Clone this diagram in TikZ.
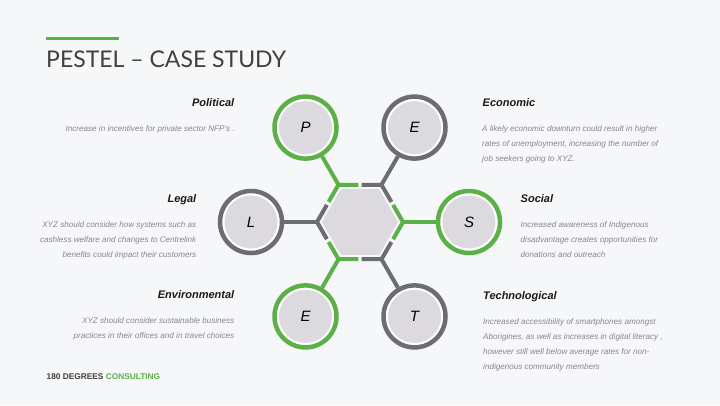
\documentclass[tikz,border=0pt]{standalone}
\usepackage{fontspec}
\setmainfont{Liberation Sans}
\newfontfamily\titlefont{Lato}
\usetikzlibrary{positioning,calc,shapes.geometric}

\definecolor{pestgreen}{RGB}{92,176,72}
\definecolor{pestgray}{RGB}{108,109,112}
\definecolor{discfill}{RGB}{220,218,223}
\definecolor{pagebg}{RGB}{246,247,249}
\definecolor{headtext}{RGB}{26,26,26}
\definecolor{bodytext}{RGB}{135,135,140}
\definecolor{titletext}{RGB}{64,64,64}

\begin{document}
\begin{tikzpicture}[x=1pt,y=-1pt]
  \tikzstyle{ring} = [circle, minimum size=62pt, line width=4.5pt, fill=white, inner sep=0pt]
  \tikzstyle{disc} = [circle, minimum size=53pt, fill=discfill, inner sep=0pt, font=\fontsize{15}{15}\selectfont\itshape]
  \tikzstyle{bracket} = [line width=4pt]
  \tikzstyle{head} = [inner sep=0pt, font=\fontsize{11}{11}\selectfont\bfseries\itshape, text=headtext]
  \tikzstyle{desc} = [inner sep=0pt, font=\fontsize{8.1}{15}\selectfont\itshape, text=bodytext]

  \fill[pagebg] (0,0) rectangle (720,405);
  \useasboundingbox (0,0) rectangle (720,405);

  % Title
  \draw[pestgreen, line width=3pt] (46,38) -- (119,38);
  \node[inner sep=0pt, anchor=base west, font=\fontsize{23}{23}\selectfont\titlefont, text=titletext] (title) at (46,67) {PESTEL – CASE STUDY};

  % Define nodes
  \node[regular polygon, regular polygon sides=6, minimum size=76pt, inner sep=0pt, fill=discfill] (hex) at (360,222) {};
  \foreach \i/\col/\ltr in {0/pestgreen/S, 1/pestgray/T, 2/pestgreen/E, 3/pestgray/L, 4/pestgreen/P, 5/pestgray/E} {
    \coordinate (v\i) at ($(hex.center)+({60*\i}:43)$);
    \node[ring, draw=\col] (c\i) at ($(hex.center)+({60*\i}:109)$) {};
    \node[disc] (d\i) at (c\i) {\ltr};
  }

  % Brackets round the hexagon and spokes
  \foreach \i/\col in {0/pestgreen, 1/pestgray, 2/pestgreen, 3/pestgray, 4/pestgreen, 5/pestgray} {
    \pgfmathtruncatemacro{\j}{mod(\i+5,6)}
    \pgfmathtruncatemacro{\k}{mod(\i+1,6)}
    \draw[bracket, \col] ($(v\i)!0.46!(v\j)$) -- (v\i) -- ($(v\i)!0.46!(v\k)$);
    \draw[bracket, \col] (v\i) -- (c\i);
  }

  % Headings
  \node[head, anchor=base east] (pol) at (234.5,106.5) {Political};
  \node[head, anchor=base west] (eco) at (482.5,106.5) {Economic};
  \node[head, anchor=base east] (leg) at (196.5,202.5) {Legal};
  \node[head, anchor=base west] (soc) at (520.5,202.5) {Social};
  \node[head, anchor=base east] (env) at (234.5,298.5) {Environmental};
  \node[head, anchor=base west] (tec) at (483,299) {Technological};

  % Descriptions (base = last line)
  \node[desc, anchor=base east, align=right] (poltxt) at (235,131.5) {Increase in incentives for private sector NFP's .};
  \node[desc, anchor=base west, align=left] (ecotxt) at (482,161.5) {A likely economic downturn could result in higher\\rates of unemployment, increasing the number of\\job seekers going to XYZ.};
  \node[desc, anchor=base east, align=right] (legtxt) at (196.5,257) {XYZ should consider how systems such as\\cashless welfare and changes to Centrelink\\benefits could impact their customers};
  \node[desc, anchor=base west, align=left] (soctxt) at (520.5,257) {Increased awareness of Indigenous\\disadvantage creates opportunities for\\donations and outreach};
  \node[desc, anchor=base east, align=right] (envtxt) at (234.5,338) {XYZ should consider sustainable business\\practices in their offices and in travel choices};
  \node[desc, anchor=base west, align=left] (tectxt) at (483,369.5) {Increased accessibility of smartphones amongst\\Aborigines, as well as increases in digital literacy ,\\however still well below average rates for non-\\indigenous community members};

  % Footer
  \node[inner sep=0pt, anchor=base west, font=\fontsize{8.3}{8.3}\selectfont\bfseries, text=titletext] (deg) at (46.5,379) {180 DEGREES};
  \node[inner sep=0pt, base right=2pt of deg, font=\fontsize{8.3}{8.3}\selectfont\bfseries, text=pestgreen] (cons) {CONSULTING};
\end{tikzpicture}
\end{document}
